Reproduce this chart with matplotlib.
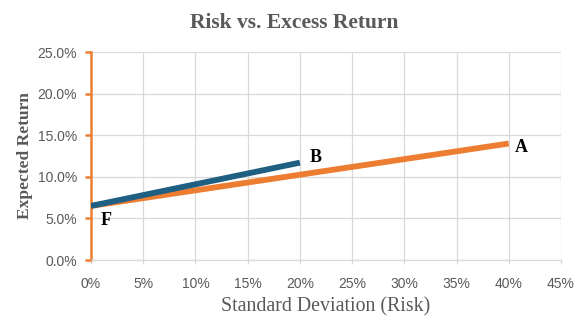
import matplotlib
matplotlib.use("Agg")
import matplotlib.pyplot as plt
from matplotlib.ticker import FuncFormatter

# Portfolio endpoints: standard deviation (%) and expected return (%)
risk_a = [0, 40]
return_a = [6.5, 14.0]
risk_b = [0, 20]
return_b = [6.5, 11.7]

point_labels = ["F", "B", "A"]
label_x = [0.9, 20.9, 40.6]
label_y = [4.7, 12.3, 13.5]

x_ticks = list(range(0, 50, 5))
y_ticks = [0, 5, 10, 15, 20, 25]

grey = "#595959"
orange = "#ED7D31"
blue = "#1F5F82"

fig = plt.figure(figsize=(5.88, 3.32), dpi=100)
ax = fig.add_axes([91 / 588, 1 - 260 / 332, 470 / 588, 208 / 332])

ax.plot(risk_a, return_a, color=orange, lw=4.2, solid_capstyle="butt", zorder=3)
ax.plot(risk_b, return_b, color=blue, lw=4.2, solid_capstyle="butt", zorder=4)

serif = ["Liberation Serif", "DejaVu Serif"]
for t, x, y in zip(point_labels, label_x, label_y):
    ax.text(x, y, t, fontsize=13, fontweight="bold", family=serif,
            color="black", ha="left", va="center", zorder=5)

ax.set_xlim(0, 45)
ax.set_ylim(0, 25)
ax.set_xticks(x_ticks)
ax.set_yticks(y_ticks)
ax.xaxis.set_major_formatter(FuncFormatter(lambda v, p: f"{v:.0f}%"))
ax.yaxis.set_major_formatter(FuncFormatter(lambda v, p: f"{v:.1f}%"))

ax.grid(True, color="#D9D9D9", lw=0.9, zorder=0)
ax.set_axisbelow(True)

for s in ["top", "right"]:
    ax.spines[s].set_visible(False)
ax.spines["left"].set_color(orange)
ax.spines["left"].set_linewidth(1.8)
ax.spines["bottom"].set_color("#D9D9D9")
ax.spines["bottom"].set_linewidth(0.9)

ax.tick_params(axis="y", colors=orange, length=4, width=1.8, direction="out",
               labelcolor=grey, labelsize=10, pad=6)
ax.tick_params(axis="x", colors="#D9D9D9", length=3, width=0.9, direction="out",
               labelcolor=grey, labelsize=10, pad=9)
for lab in ax.get_xticklabels() + ax.get_yticklabels():
    lab.set_family(["Liberation Sans", "DejaVu Sans"])

ax.set_xlabel("Standard Deviation (Risk)", fontsize=14.3, family=serif,
              color=grey, va="center")
ax.set_ylabel("Expected Return", fontsize=12.5, fontweight="bold",
              family=serif, color=grey, va="center")
ax.xaxis.set_label_coords(0.5, -0.225)
ax.yaxis.set_label_coords(-0.140, 0.5)

fig.text(0.5, 1 - 23 / 332, "Risk vs. Excess Return", ha="center", va="center",
         fontsize=15.5, fontweight="bold", family=serif, color=grey)

fig.savefig("out.png", dpi=100)
